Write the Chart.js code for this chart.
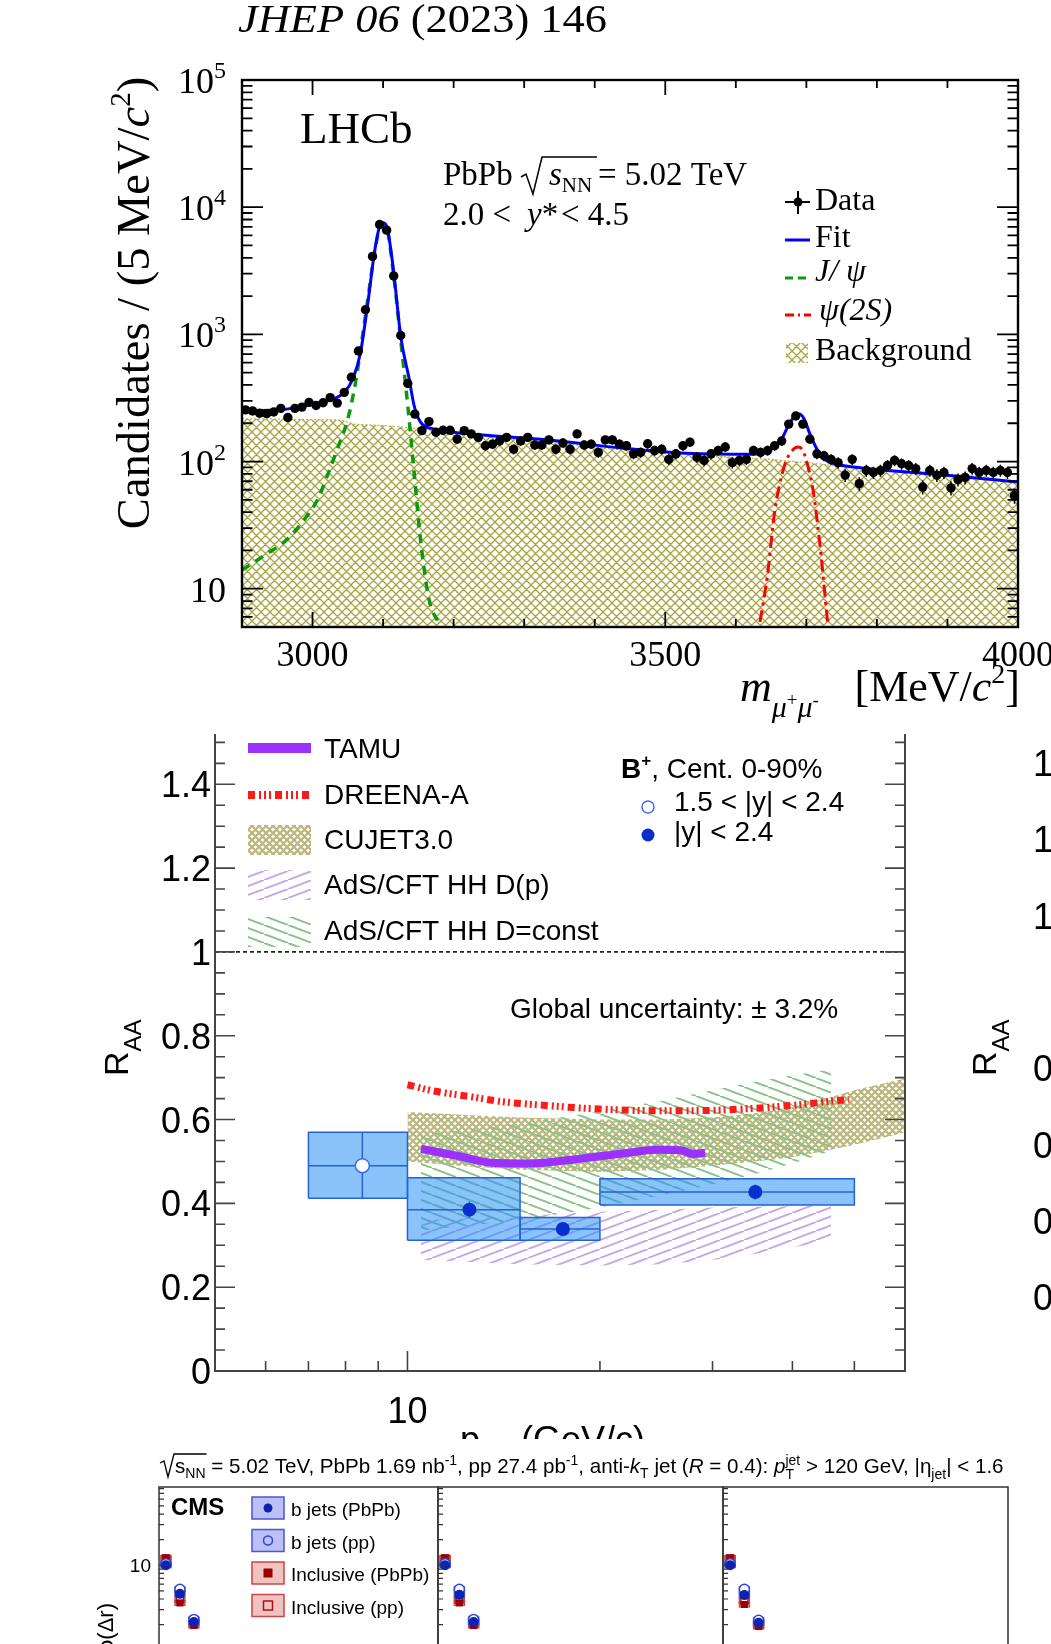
<!DOCTYPE html>
<html>
<head>
<meta charset="utf-8">
<title>LHCb / CMS figures</title>
<script src="https://cdn.jsdelivr.net/npm/chart.js@4.4.0/dist/chart.umd.min.js"></script>
<style>
  html, body { margin: 0; padding: 0; background: #fff; }
  body { position: relative; width: 1051px; height: 1644px; overflow: hidden; }
  canvas { position: absolute; left: 0; }
</style>
</head>
<body>
<canvas id="lhcb" width="1051" height="760" style="top:0"></canvas>
<canvas id="raa" width="1051" height="739" style="top:700px"></canvas>
<canvas id="jet1" width="1051" height="420" style="top:1439px"></canvas>
<canvas id="jet2" width="1051" height="420" style="top:1439px"></canvas>
<canvas id="jet3" width="1051" height="420" style="top:1439px"></canvas>
<script>
// ---------- LHCb dimuon mass spectrum ----------
// candidates per bin, bins centred every 10 MeV from 2905 to 3995
const candidates = [255,250,240,238,245,262,222,262,268,292, 276,290,318,288,350,460,740,1560,4100,7300,
  6600,2880,980,411,236,175,206,170,176,176, 150,175,165,155,133,137,145,155,125,145,
  155,135,135,148,125,140,125,165,135,137, 118,148,148,137,133,115,118,138,122,125,
  104,115,133,142,108,102,115,122,130,98, 102,104,122,118,122,133,145,197,228,197,
  150,115,111,104,98,78,104,67,85,82, 85,93,102,96,93,88,63,85,78,82,
  62,72,75,88,82,85,82,85,82,54];
const massBins = candidates.map((_, i) => 2905 + 10 * i);

const fitMass = [2900,2955,2990,3025,3045,3058,3068,3078,3088,3096,3100,3106,3115,3125,3137,3144,3153,3172,3200,3250,
  3345,3437,3530,3625,3655,3665,3675,3685,3690,3697,3705,3715,3725,3740,3770,3815,3910,4000];
const fitVal = [250,255,275,305,350,460,720,1700,4500,7300,7550,6800,3100,961,446,275,204,180,170,160,
  146,128,116,114,130,150,195,232,236,215,165,125,105,96,90,85,77,69];

const jpsiMass = [2900,2930,2964,2990,3007,3020,3035,3050,3061,3070,3080,3088,3096,3100,3106,3115,3125,3135,3144,3153,3165,3180,3186];
const jpsiVal = [14,18,24.5,36,50,75,125,216,420,900,2200,4400,7100,7350,6600,2900,900,275,82,24.5,8.3,5,3.5];

const psi2sMass = [3628,3633,3645,3655,3669,3680,3688,3695,3702,3710,3721,3731,3736];
const psi2sVal = [3.5,5,13,40,93,122,130,122,93,57,18,5,3.5];

const bkgMass = [2900,2950,3000,3040,3060,3100,3150,3200,3250,3300,3350,3400,3450,3500,3550,3600,3650,3700,3750,3800,3850,3900,3950,4000];
const bkgVal = [217,216,214,212,196,192,182,170,158,148,140,130,121,116,112,108,104,98,92,87,84,80,76,69];

// ---------- CMS B+ R_AA ----------
const fwdPt = [8.5], fwdRaa = [0.49], fwdStat = [0.08];
const fwdBinLo = [7], fwdBinHi = [10], fwdSystLo = [0.412], fwdSystHi = [0.570];
const midPt = [12.5, 17.5, 35], midRaa = [0.385, 0.339, 0.427], midStat = [0.02, 0.012, 0.018];
const midBinLo = [10, 15, 20], midBinHi = [15, 20, 50];
const midSystLo = [0.312, 0.312, 0.396], midSystHi = [0.461, 0.366, 0.459];

const tamuPt = [10.5, 12, 13.5, 15.5, 18.5, 22, 24.5, 26.7, 28, 29.2];
const tamuRaa = [0.53, 0.513, 0.497, 0.495, 0.506, 0.52, 0.528, 0.527, 0.518, 0.521];
const dreenaPt = [10, 11, 12.5, 14, 16, 20, 25, 30, 35, 40, 45, 49];
const dreenaRaa = [0.683, 0.668, 0.655, 0.643, 0.635, 0.625, 0.621, 0.622, 0.627, 0.634, 0.642, 0.648];
const cujetPt = [10, 12, 15, 20, 25, 30, 35, 40, 45, 50, 55, 60];
const cujetHi = [0.618, 0.612, 0.605, 0.600, 0.600, 0.605, 0.615, 0.630, 0.650, 0.670, 0.685, 0.698];
const cujetLo = [0.50, 0.49, 0.48, 0.475, 0.48, 0.49, 0.50, 0.51, 0.525, 0.54, 0.555, 0.57];
const adsPt = [10.5, 15, 20, 25, 30, 35, 40, 46];
const adsConstHi = [0.565, 0.59, 0.62, 0.645, 0.67, 0.69, 0.705, 0.72];
const adsConstLo = [0.335, 0.36, 0.39, 0.42, 0.445, 0.47, 0.495, 0.525];
const adsDpHi = [0.36, 0.37, 0.38, 0.385, 0.39, 0.392, 0.393, 0.395];
const adsDpLo = [0.265, 0.255, 0.252, 0.255, 0.265, 0.28, 0.295, 0.31];
const raaTickLabels = ['0', '0.2', '0.4', '0.6', '0.8', '1', '1.2', '1.4'];

// ---------- CMS jet shapes (three panels, only the top is visible) ----------
const rBins = [0.025, 0.075, 0.125];
const bjetPbPb = [[10.0, 4.6, 2.15], [10.0, 4.5, 2.15], [10.0, 4.45, 2.1]];
const bjetPP = [[10.4, 5.2, 2.3], [10.4, 5.2, 2.3], [10.4, 5.2, 2.25]];
const inclPbPb = [[12.2, 3.6, 1.95], [12.2, 3.6, 1.95], [12.2, 3.45, 1.9]];
const inclPP = [[12.0, 3.95, 2.05], [12.0, 3.9, 2.05], [12.0, 3.8, 2.0]];

const SERIF = '"Liberation Serif", "DejaVu Serif", serif';
const SANS = '"Liberation Sans", Arial, sans-serif';
const fnt = (size, fam, style) => (style ? style + ' ' : '') + size + 'px ' + fam;
const pts = (xs, ys) => xs.map((v, i) => ({ x: v, y: ys[i] }));

function makePattern(type, color, w, h, lw) {
  const c = document.createElement('canvas');
  c.width = w; c.height = h;
  const g = c.getContext('2d');
  g.strokeStyle = color; g.lineWidth = lw;
  g.beginPath();
  for (const o of [-1, 0, 1]) {
    if (type !== 'down') { g.moveTo(o * w, h); g.lineTo(o * w + w, 0); }
    if (type !== 'up') { g.moveTo(o * w, 0); g.lineTo(o * w + w, h); }
  }
  g.stroke();
  return g.createPattern(c, 'repeat');
}

// draws a row of text pieces, each {t, f, dy, adv}
function drawParts(ctx, x, y, parts, align) {
  ctx.textAlign = 'left'; ctx.textBaseline = 'alphabetic';
  let w = 0;
  for (const p of parts) { ctx.font = p.f; if (p.adv !== false) w += ctx.measureText(p.t).width; }
  let cx = align === 'right' ? x - w : align === 'center' ? x - w / 2 : x;
  for (const p of parts) {
    ctx.font = p.f;
    ctx.fillText(p.t, cx, y + (p.dy || 0));
    if (p.adv !== false) cx += ctx.measureText(p.t).width;
  }
  return w;
}

function logTicks(min, max) {
  const out = [];
  for (let e = Math.floor(Math.log10(min)); e <= Math.ceil(Math.log10(max)); e++)
    for (let m = 1; m <= 9; m++) {
      const v = m * Math.pow(10, e);
      if (v >= min * 0.999 && v <= max * 1.001) out.push([v, m === 1]);
    }
  return out;
}

Chart.defaults.animation = false;
Chart.defaults.plugins.legend.display = false;
Chart.defaults.plugins.tooltip.enabled = false;

// ================= top: LHCb =================
const bkgHatch = makePattern('cross', '#a8a440', 9, 9, 1.3);

const lhcbDecor = {
  id: 'lhcbDecor',
  afterDatasetsDraw(chart) {
    const { ctx, scales: { x, y } } = chart;
    ctx.save();
    ctx.strokeStyle = '#000'; ctx.lineWidth = 1.5;
    ctx.beginPath();
    candidates.forEach((n, i) => {
      const px = x.getPixelForValue(massBins[i]);
      const e = Math.sqrt(n);
      ctx.moveTo(px, y.getPixelForValue(n + e));
      ctx.lineTo(px, y.getPixelForValue(n - e));
    });
    ctx.stroke();
    ctx.restore();
  },
  afterDraw(chart) {
    const { ctx, chartArea: a, scales: { x, y } } = chart;
    ctx.save();
    ctx.fillStyle = '#000'; ctx.strokeStyle = '#000';
    ctx.lineWidth = 2.4;
    ctx.strokeRect(a.left, a.top, a.right - a.left, a.bottom - a.top);
    ctx.lineWidth = 1.8;
    ctx.beginPath();
    for (const [v, major] of logTicks(5, 1e5)) {
      const py = y.getPixelForValue(v), L = major ? 21 : 10.5;
      ctx.moveTo(a.left, py); ctx.lineTo(a.left + L, py);
      ctx.moveTo(a.right, py); ctx.lineTo(a.right - L, py);
    }
    for (let v = 3000; v <= 4000; v += 100) {
      const px = x.getPixelForValue(v), L = v % 500 === 0 ? 15 : 8;
      ctx.moveTo(px, a.bottom); ctx.lineTo(px, a.bottom - L);
      ctx.moveTo(px, a.top); ctx.lineTo(px, a.top + L);
    }
    ctx.stroke();

    // tick labels
    for (let e = 1; e <= 5; e++) {
      const py = y.getPixelForValue(Math.pow(10, e)) + 13;
      const parts = [{ t: '10', f: fnt(36, SERIF) }];
      if (e > 1) parts.push({ t: String(e), f: fnt(24, SERIF), dy: -15 });
      drawParts(ctx, 226, py, parts, 'right');
    }
    for (const v of [3000, 3500, 4000]) drawParts(ctx, x.getPixelForValue(v), 666, [{ t: String(v), f: fnt(36, SERIF) }], 'center');

    // journal reference
    ctx.save();
    ctx.translate(238, 32);
    const jw = drawParts(ctx, 0, -1000, [{ t: 'JHEP 06', f: fnt(40, SERIF, 'italic') }, { t: ' (2023) 146', f: fnt(40, SERIF) }]);
    ctx.scale(369 / jw, 1);
    drawParts(ctx, 0, 0, [{ t: 'JHEP 06', f: fnt(40, SERIF, 'italic') }, { t: ' (2023) 146', f: fnt(40, SERIF) }]);
    ctx.restore();

    // axis titles
    ctx.save();
    ctx.translate(149, 303);
    ctx.rotate(-Math.PI / 2);
    drawParts(ctx, 0, 0, [
      { t: 'Candidates / (5 MeV/', f: fnt(46.5, SERIF) },
      { t: 'c', f: fnt(46.5, SERIF, 'italic') },
      { t: '2', f: fnt(29, SERIF), dy: -19 },
      { t: ')', f: fnt(46.5, SERIF) }], 'center');
    ctx.restore();
    drawParts(ctx, 740, 701, [
      { t: 'm', f: fnt(44, SERIF, 'italic') },
      { t: 'μ', f: fnt(30, SERIF, 'italic'), dy: 16 },
      { t: '+', f: fnt(19, SERIF), dy: 5 },
      { t: 'μ', f: fnt(30, SERIF, 'italic'), dy: 16 },
      { t: '-', f: fnt(19, SERIF), dy: 5 }]);
    drawParts(ctx, 1020, 701, [
      { t: '[MeV/', f: fnt(44, SERIF) },
      { t: 'c', f: fnt(44, SERIF, 'italic') },
      { t: '2', f: fnt(28, SERIF), dy: -18 },
      { t: ']', f: fnt(44, SERIF) }], 'right');

    // labels in the frame
    drawParts(ctx, 300, 143, [{ t: 'LHCb', f: fnt(45, SERIF) }]);
    drawParts(ctx, 443, 185, [{ t: 'PbPb', f: fnt(33, SERIF) }]);
    ctx.lineWidth = 1.5;
    ctx.beginPath();
    ctx.moveTo(521, 177); ctx.lineTo(526, 174); ctx.lineTo(533, 194); ctx.lineTo(542, 157); ctx.lineTo(597, 157);
    ctx.stroke();
    drawParts(ctx, 549, 185, [{ t: 's', f: fnt(33, SERIF, 'italic') }, { t: 'NN', f: fnt(21, SERIF), dy: 7 }]);
    drawParts(ctx, 598, 185, [{ t: '= 5.02 TeV', f: fnt(33, SERIF) }]);
    drawParts(ctx, 443, 225, [{ t: '2.0 <', f: fnt(33, SERIF) }]);
    drawParts(ctx, 527, 225, [{ t: 'y', f: fnt(33, SERIF, 'italic') }, { t: '*', f: fnt(33, SERIF) }]);
    drawParts(ctx, 561, 225, [{ t: '< 4.5', f: fnt(33, SERIF) }]);

    // legend
    ctx.lineWidth = 2;
    ctx.beginPath();
    ctx.moveTo(785, 202); ctx.lineTo(810, 202);
    ctx.moveTo(798, 191); ctx.lineTo(798, 214);
    ctx.stroke();
    ctx.beginPath(); ctx.arc(798, 202, 4.5, 0, Math.PI * 2); ctx.fill();
    ctx.lineWidth = 3; ctx.strokeStyle = '#0000ff';
    ctx.beginPath(); ctx.moveTo(785, 240); ctx.lineTo(810, 240); ctx.stroke();
    ctx.strokeStyle = '#0a9a0a'; ctx.setLineDash([8, 5]);
    ctx.beginPath(); ctx.moveTo(785, 278); ctx.lineTo(811, 278); ctx.stroke();
    ctx.strokeStyle = '#ff0000'; ctx.setLineDash([9, 4, 2, 4]);
    ctx.beginPath(); ctx.moveTo(785, 315); ctx.lineTo(811, 315); ctx.stroke();
    ctx.setLineDash([]);
    ctx.fillStyle = bkgHatch;
    ctx.fillRect(786, 343, 22, 20);
    ctx.fillStyle = '#000';
    drawParts(ctx, 815, 210, [{ t: 'Data', f: fnt(32, SERIF) }]);
    drawParts(ctx, 815, 247, [{ t: 'Fit', f: fnt(32, SERIF) }]);
    drawParts(ctx, 815, 281, [{ t: 'J/ ψ', f: fnt(32, SERIF, 'italic') }]);
    drawParts(ctx, 819, 320, [{ t: 'ψ(2S)', f: fnt(32, SERIF, 'italic') }]);
    drawParts(ctx, 815, 360, [{ t: 'Background', f: fnt(32, SERIF) }]);
    ctx.restore();
  }
};

new Chart(document.getElementById('lhcb'), {
  type: 'line',
  data: {
    datasets: [
      { label: 'Data', data: pts(massBins, candidates), showLine: false, pointRadius: 4.7, pointBorderWidth: 0,
        pointBackgroundColor: '#000', order: 0 },
      { label: 'Fit', data: pts(fitMass, fitVal), borderColor: '#0000ff', borderWidth: 3, pointRadius: 0,
        cubicInterpolationMode: 'monotone', order: 1 },
      { label: 'J/psi', data: pts(jpsiMass, jpsiVal), borderColor: '#0a9a0a', borderWidth: 3.5, borderDash: [9, 7],
        pointRadius: 0, cubicInterpolationMode: 'monotone', order: 2 },
      { label: 'psi(2S)', data: pts(psi2sMass, psi2sVal), borderColor: '#ff0000', borderWidth: 3, borderDash: [12, 5, 3, 5],
        pointRadius: 0, cubicInterpolationMode: 'monotone', order: 3 },
      { label: 'Background', data: pts(bkgMass, bkgVal), borderColor: '#b4b060', borderWidth: 1.2, borderDash: [2, 2],
        backgroundColor: bkgHatch, fill: 'start', pointRadius: 0, order: 4 }
    ]
  },
  options: {
    responsive: false,
    layout: { padding: { left: 242, top: 80, right: 33, bottom: 133 } },
    scales: {
      x: { type: 'linear', min: 2900, max: 4000, display: false },
      y: { type: 'logarithmic', min: 5, max: 1e5, display: false }
    }
  },
  plugins: [lhcbDecor]
});

// ================= middle: R_AA =================
const cujetHatch = makePattern('cross', '#bab67c', 7, 7, 2.2);
const dpHatch = makePattern('up', '#c7a6ee', 24, 9, 2);
const constHatch = makePattern('down', '#88c488', 24, 9, 2);
const BOX_FILL = 'rgba(40,145,245,0.55)', BOX_LINE = '#2462d8';
const MY = 700;

const raaDatasets = [];
raaDatasets.push({ label: '1.5<|y|<2.4', data: pts(fwdPt, fwdRaa), showLine: false, pointRadius: 7,
  pointBackgroundColor: '#fff', pointBorderColor: '#3a6ff0', pointBorderWidth: 1.5, order: 0 });
raaDatasets.push({ label: '|y|<2.4', data: pts(midPt, midRaa), showLine: false, pointRadius: 7,
  pointBackgroundColor: '#0a2fcf', pointBorderWidth: 0, order: 0 });
const addBins = (pt, raa, stat, lo, hi, sLo, sHi) => {
  pt.forEach((p, i) => {
    raaDatasets.push({ data: [{ x: lo[i], y: raa[i] }, { x: hi[i], y: raa[i] }], borderColor: BOX_LINE, borderWidth: 1.5, order: 1 });
    raaDatasets.push({ data: [{ x: p, y: raa[i] - stat[i] }, { x: p, y: raa[i] + stat[i] }], borderColor: BOX_LINE, borderWidth: 1.5, order: 1 });
    raaDatasets.push({ data: [{ x: lo[i], y: sLo[i] }, { x: hi[i], y: sLo[i] }, { x: hi[i], y: sHi[i] }, { x: lo[i], y: sHi[i] }, { x: lo[i], y: sLo[i] }],
      fill: 'shape', backgroundColor: BOX_FILL, borderColor: BOX_LINE, borderWidth: 1.5, order: 2 });
  });
};
addBins(fwdPt, fwdRaa, fwdStat, fwdBinLo, fwdBinHi, fwdSystLo, fwdSystHi);
addBins(midPt, midRaa, midStat, midBinLo, midBinHi, midSystLo, midSystHi);
raaDatasets.push({ label: 'TAMU', data: pts(tamuPt, tamuRaa), borderColor: '#9b30ff', borderWidth: 8,
  cubicInterpolationMode: 'monotone', order: 3 });
raaDatasets.push({ label: 'DREENA-A', data: pts(dreenaPt, dreenaRaa), borderColor: '#ff1a1a', borderWidth: 7,
  borderDash: [7, 4, 2, 3, 2, 3, 2, 4], cubicInterpolationMode: 'monotone', order: 4 });
raaDatasets.push({ label: 'AdS/CFT HH D=const', data: pts(adsPt, adsConstHi), borderWidth: 0, fill: '+1', backgroundColor: constHatch, order: 5 });
raaDatasets.push({ data: pts(adsPt, adsConstLo), borderWidth: 0, order: 5 });
raaDatasets.push({ label: 'CUJET3.0', data: pts(cujetPt, cujetHi), borderWidth: 0, fill: '+1', backgroundColor: cujetHatch, order: 6 });
raaDatasets.push({ data: pts(cujetPt, cujetLo), borderWidth: 0, order: 6 });
raaDatasets.push({ label: 'AdS/CFT HH D(p)', data: pts(adsPt, adsDpHi), borderWidth: 0, fill: '+1', backgroundColor: dpHatch, order: 7 });
raaDatasets.push({ data: pts(adsPt, adsDpLo), borderWidth: 0, order: 7 });

const raaDecor = {
  id: 'raaDecor',
  beforeDatasetsDraw(chart) {
    const { ctx, chartArea: a, scales: { y } } = chart;
    const py = y.getPixelForValue(1);
    ctx.save();
    ctx.strokeStyle = '#222'; ctx.lineWidth = 1.6; ctx.setLineDash([4, 3]);
    ctx.beginPath(); ctx.moveTo(a.left, py); ctx.lineTo(a.right, py); ctx.stroke();
    ctx.restore();
  },
  afterDraw(chart) {
    const { ctx, chartArea: a, scales: { x, y } } = chart;
    ctx.save();
    ctx.strokeStyle = '#444'; ctx.fillStyle = '#000';
    ctx.lineWidth = 2;
    ctx.beginPath();
    ctx.moveTo(a.left, a.top); ctx.lineTo(a.left, a.bottom); ctx.lineTo(a.right, a.bottom); ctx.lineTo(a.right, a.top);
    ctx.stroke();
    ctx.lineWidth = 1.6;
    ctx.beginPath();
    for (let i = 0; i * 0.05 <= 1.52; i++) {
      const py = y.getPixelForValue(i * 0.05), L = i % 4 === 0 ? 20 : 10;
      ctx.moveTo(a.left, py); ctx.lineTo(a.left + L, py);
      ctx.moveTo(a.right, py); ctx.lineTo(a.right - L, py);
    }
    for (const v of [6, 7, 8, 9, 10, 20, 30, 40, 50]) {
      const px = x.getPixelForValue(v), L = v === 10 ? 20 : 10;
      ctx.moveTo(px, a.bottom); ctx.lineTo(px, a.bottom - L);
    }
    ctx.stroke();

    raaTickLabels.forEach((t, i) => drawParts(ctx, 211, y.getPixelForValue(i * 0.2) + 13, [{ t, f: fnt(36, SANS) }], 'right'));
    drawParts(ctx, x.getPixelForValue(10), 1423 - MY, [{ t: '10', f: fnt(36, SANS) }], 'center');
    drawParts(ctx, 460, 1452 - MY, [{ t: 'p', f: fnt(36, SANS) }, { t: 'T', f: fnt(24, SANS), dy: 8 }]);
    drawParts(ctx, 521, 1452 - MY, [{ t: '(GeV/c)', f: fnt(36, SANS) }]);
    ctx.save();
    ctx.translate(128, 1076 - MY); ctx.rotate(-Math.PI / 2);
    drawParts(ctx, 0, 0, [{ t: 'R', f: fnt(34, SANS) }, { t: 'AA', f: fnt(24, SANS), dy: 13 }]);
    ctx.restore();

    // legend
    ctx.lineWidth = 10; ctx.strokeStyle = '#9b30ff';
    ctx.beginPath(); ctx.moveTo(248, 748 - MY); ctx.lineTo(311, 748 - MY); ctx.stroke();
    ctx.lineWidth = 8; ctx.strokeStyle = '#ff1a1a'; ctx.setLineDash([7, 4, 2, 3, 2, 3, 2, 4]);
    ctx.beginPath(); ctx.moveTo(248, 795 - MY); ctx.lineTo(311, 795 - MY); ctx.stroke();
    ctx.setLineDash([]);
    ctx.fillStyle = cujetHatch; ctx.fillRect(248, 825 - MY, 63, 30);
    ctx.fillStyle = dpHatch; ctx.fillRect(248, 870 - MY, 63, 30);
    ctx.fillStyle = constHatch; ctx.fillRect(248, 917 - MY, 63, 30);
    ctx.fillStyle = '#000';
    const lf = fnt(28, SANS);
    drawParts(ctx, 324, 758 - MY, [{ t: 'TAMU', f: lf }]);
    drawParts(ctx, 324, 804 - MY, [{ t: 'DREENA-A', f: lf }]);
    drawParts(ctx, 324, 849 - MY, [{ t: 'CUJET3.0', f: lf }]);
    drawParts(ctx, 324, 894 - MY, [{ t: 'AdS/CFT HH D(p)', f: lf }]);
    drawParts(ctx, 324, 940 - MY, [{ t: 'AdS/CFT HH D=const', f: lf }]);

    drawParts(ctx, 621, 778 - MY, [{ t: 'B', f: fnt(28, SANS, 'bold') }, { t: '+', f: fnt(17, SANS, 'bold'), dy: -12 },
      { t: ', Cent. 0-90%', f: lf }]);
    ctx.strokeStyle = '#3a6ff0'; ctx.lineWidth = 1.5;
    ctx.beginPath(); ctx.arc(648, 807 - MY, 6, 0, Math.PI * 2); ctx.stroke();
    ctx.fillStyle = '#0a2fcf';
    ctx.beginPath(); ctx.arc(648, 835 - MY, 6.5, 0, Math.PI * 2); ctx.fill();
    ctx.fillStyle = '#000';
    drawParts(ctx, 674, 811 - MY, [{ t: '1.5 < |y| < 2.4', f: lf }]);
    drawParts(ctx, 674, 841 - MY, [{ t: '|y| < 2.4', f: lf }]);
    drawParts(ctx, 510, 1018 - MY, [{ t: 'Global uncertainty: ± 3.2%', f: lf }]);

    // neighbouring panel, cut by the page edge
    ['1.6', '1.4', '1.2', '1', '0.8', '0.6', '0.4', '0.2'].forEach((t, i) =>
      drawParts(ctx, 1083, 763 + i * 76.3 + 13 - MY, [{ t, f: fnt(36, SANS) }], 'right'));
    ctx.save();
    ctx.translate(996, 1076 - MY); ctx.rotate(-Math.PI / 2);
    drawParts(ctx, 0, 0, [{ t: 'R', f: fnt(34, SANS) }, { t: 'AA', f: fnt(24, SANS), dy: 13 }]);
    ctx.restore();
    ctx.restore();
  }
};

new Chart(document.getElementById('raa'), {
  type: 'line',
  data: { datasets: raaDatasets },
  options: {
    responsive: false,
    elements: { point: { radius: 0 }, line: { tension: 0 } },
    layout: { padding: { left: 215, top: 34, right: 146, bottom: 68 } },
    scales: {
      x: { type: 'logarithmic', min: 5, max: 60, display: false },
      y: { type: 'linear', min: 0, max: 1.52, display: false }
    }
  },
  plugins: [raaDecor]
});

// ================= bottom: jet shapes =================
const JY = 1439;
const panelEdges = [[159, 438], [438, 723], [723, 1008]];
const BLUE_BOX = 'rgba(80,90,225,0.38)', BLUE_EDGE = '#4a55d6';
const RED_BOX = 'rgba(215,95,95,0.38)', RED_EDGE = '#c84646';

function jetDecor(k) {
  return {
    id: 'jetDecor' + k,
    beforeDatasetsDraw(chart) {
      const { ctx, scales: { x, y } } = chart;
      ctx.save();
      ctx.lineWidth = 1.2;
      const boxes = (vals, fill, edge) => vals.forEach((v, i) => {
        const x0 = x.getPixelForValue(rBins[i] - 0.018), x1 = x.getPixelForValue(rBins[i] + 0.018);
        const y0 = y.getPixelForValue(v * 1.07), y1 = y.getPixelForValue(v / 1.07);
        ctx.fillStyle = fill; ctx.strokeStyle = edge;
        ctx.fillRect(x0, y0, x1 - x0, y1 - y0); ctx.strokeRect(x0, y0, x1 - x0, y1 - y0);
      });
      boxes(inclPP[k], RED_BOX, RED_EDGE); boxes(inclPbPb[k], RED_BOX, RED_EDGE);
      boxes(bjetPP[k], BLUE_BOX, BLUE_EDGE); boxes(bjetPbPb[k], BLUE_BOX, BLUE_EDGE);
      ctx.restore();
    },
    afterDraw(chart) {
      const { ctx, chartArea: a, scales: { y } } = chart;
      ctx.save();
      ctx.strokeStyle = '#333'; ctx.lineWidth = 1.5;
      ctx.beginPath();
      ctx.moveTo(a.left, a.bottom); ctx.lineTo(a.left, a.top); ctx.lineTo(a.right, a.top); ctx.lineTo(a.right, a.bottom);
      ctx.stroke();
      ctx.lineWidth = 1.2;
      ctx.beginPath();
      for (const [v, major] of logTicks(0.01, 83.4)) {
        const py = y.getPixelForValue(v);
        ctx.moveTo(a.left, py); ctx.lineTo(a.left + (major ? 9 : 5), py);
      }
      ctx.stroke();
      if (k === 0) {
        ctx.fillStyle = '#000';
        const f20 = fnt(20.6, SANS), f14 = fnt(14, SANS);
        // radical over s_NN
        ctx.font = f20; const ws = ctx.measureText('s').width;
        ctx.font = f14; const wn = ctx.measureText('NN').width;
        ctx.lineWidth = 1.3; ctx.strokeStyle = '#000';
        ctx.beginPath();
        ctx.moveTo(160, 24); ctx.lineTo(164, 22); ctx.lineTo(168, 38); ctx.lineTo(174, 15); ctx.lineTo(176 + ws + wn, 15);
        ctx.stroke();
        drawParts(ctx, 175, 34, [
          { t: 's', f: f20 }, { t: 'NN', f: f14, dy: 5 },
          { t: ' = 5.02 TeV, PbPb 1.69 nb', f: f20 }, { t: '-1', f: f14, dy: -8 },
          { t: ', pp 27.4 pb', f: f20 }, { t: '-1', f: f14, dy: -8 },
          { t: ', anti-', f: f20 }, { t: 'k', f: fnt(20.6, SANS, 'italic') }, { t: 'T', f: f14, dy: 5 },
          { t: ' jet (', f: f20 }, { t: 'R', f: fnt(20.6, SANS, 'italic') }, { t: ' = 0.4): ', f: f20 },
          { t: 'p', f: fnt(20.6, SANS, 'italic') }, { t: 'T', f: f14, dy: 6, adv: false }, { t: 'jet', f: f14, dy: -8 },
          { t: ' > 120 GeV, |η', f: f20 }, { t: 'jet', f: f14, dy: 6 }, { t: '| < 1.6', f: f20 }]);
        drawParts(ctx, 171, 76, [{ t: 'CMS', f: fnt(24, SANS, 'bold') }]);
        const entries = [
          ['b jets (PbPb)', BLUE_BOX, BLUE_EDGE, 'circle', true, '#0d23b0'],
          ['b jets (pp)', BLUE_BOX, BLUE_EDGE, 'circle', false, '#2f45d8'],
          ['Inclusive (PbPb)', RED_BOX, RED_EDGE, 'rect', true, '#9b0000'],
          ['Inclusive (pp)', RED_BOX, RED_EDGE, 'rect', false, '#b01010']];
        entries.forEach(([t, fill, edge, shape, solid, col], i) => {
          const top = 58 + i * 32.5;
          ctx.fillStyle = fill; ctx.strokeStyle = edge; ctx.lineWidth = 1.5;
          ctx.fillRect(252, top, 32, 22); ctx.strokeRect(252, top, 32, 22);
          ctx.fillStyle = col; ctx.strokeStyle = col;
          ctx.beginPath();
          if (shape === 'circle') ctx.arc(268, top + 11, 4.5, 0, Math.PI * 2);
          else ctx.rect(263.5, top + 6.5, 9, 9);
          if (solid) ctx.fill(); else ctx.stroke();
          ctx.fillStyle = '#000';
          drawParts(ctx, 291, top + 19, [{ t, f: fnt(19, SANS) }]);
        });
        drawParts(ctx, 151, y.getPixelForValue(10) + 7, [{ t: '10', f: fnt(19, SANS) }], 'right');
        ctx.save();
        ctx.translate(113, 1603 - JY); ctx.rotate(-Math.PI / 2);
        drawParts(ctx, 0, 0, [{ t: 'ρ(Δr)', f: fnt(22, SANS) }], 'right');
        ctx.restore();
      }
      ctx.restore();
    }
  };
}

panelEdges.forEach(([l, r], k) => {
  new Chart(document.getElementById('jet' + (k + 1)), {
    type: 'line',
    data: {
      datasets: [
        { label: 'b jets (PbPb)', data: pts(rBins, bjetPbPb[k]), showLine: false, pointStyle: 'circle', pointRadius: 5,
          pointBackgroundColor: '#0d23b0', pointBorderWidth: 0, order: 0 },
        { label: 'b jets (pp)', data: pts(rBins, bjetPP[k]), showLine: false, pointStyle: 'circle', pointRadius: 5,
          pointBackgroundColor: '#fff', pointBorderColor: '#2f45d8', pointBorderWidth: 1.5, order: 1 },
        { label: 'Inclusive (PbPb)', data: pts(rBins, inclPbPb[k]), showLine: false, pointStyle: 'rect', pointRadius: 5,
          pointBackgroundColor: '#9b0000', pointBorderWidth: 0, order: 2 },
        { label: 'Inclusive (pp)', data: pts(rBins, inclPP[k]), showLine: false, pointStyle: 'rect', pointRadius: 5,
          pointBackgroundColor: '#fff', pointBorderColor: '#b01010', pointBorderWidth: 1.5, order: 3 }
      ]
    },
    options: {
      responsive: false,
      layout: { padding: { left: l, top: 48, right: 1051 - r, bottom: 39 } },
      scales: {
        x: { type: 'linear', min: 0, max: 1, display: false },
        y: { type: 'logarithmic', min: 0.01, max: 83.4, display: false }
      }
    },
    plugins: [jetDecor(k)]
  });
});
</script>
</body>
</html>
